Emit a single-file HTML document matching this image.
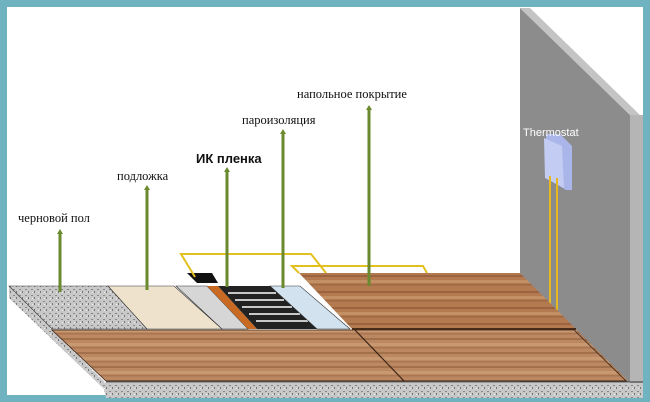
<!DOCTYPE html>
<html><head><meta charset="utf-8"><style>
html,body{margin:0;padding:0;background:#6fb3c0}
svg{display:block}
text{font-family:"Liberation Serif",serif;font-size:12.5px;fill:#111}
</style></head><body>
<svg width="650" height="402" viewBox="0 0 650 402">
<defs>
<pattern id="wood" width="80" height="16" patternUnits="userSpaceOnUse">
<rect width="80" height="16" fill="#b47a4f"/>
<rect y="3" width="80" height="2" fill="#8a5533" opacity=".6"/>
<rect y="8" width="80" height="3" fill="#c99a70" opacity=".7"/>
<rect y="12" width="80" height="1.5" fill="#93603c" opacity=".6"/>
</pattern>
<pattern id="wood2" width="80" height="14" patternUnits="userSpaceOnUse">
<rect width="80" height="14" fill="#bb8862"/>
<rect y="2" width="80" height="2" fill="#8f5c3a" opacity=".55"/>
<rect y="7" width="80" height="3" fill="#d0a37c" opacity=".6"/>
<rect y="11" width="80" height="1.5" fill="#99643f" opacity=".5"/>
</pattern>
<pattern id="gran" width="6" height="6" patternUnits="userSpaceOnUse">
<rect width="6" height="6" fill="#c8c8c8"/>
<rect x="1" y="1" width="2" height="1" fill="#888"/>
<rect x="4" y="3" width="1" height="2" fill="#777"/>
<rect x="2" y="4" width="1" height="1" fill="#eee"/>
</pattern>
</defs>
<rect x="0" y="0" width="650" height="402" fill="#6fb3c0"/>
<rect x="7" y="7" width="636" height="388" fill="#fff"/>
<!-- wall -->
<polygon points="520,8 630,115 632,382 520,382" fill="#8c8c8c"/>
<polygon points="520,8 530,8 643,118 630,115" fill="#c4c4c4"/>
<rect x="630" y="115" width="13" height="268" fill="#b5b5b5"/>
<!-- thermostat -->
<polygon points="546,134 560,134 572,146 572,190 566,190 546,178" fill="#aab6ea"/>
<polygon points="544,138 562,146 564,188 545,178" fill="#c3cdf3"/>
<text x="523" y="136" style="font-family:'Liberation Sans',sans-serif;font-size:11px;fill:#fff">Thermostat</text>
<line x1="550" y1="176" x2="550" y2="305" stroke="#e8b820" stroke-width="2"/>
<line x1="557" y1="178" x2="557" y2="310" stroke="#e8b820" stroke-width="2"/>
<!-- base slab -->
<polygon points="9,286 9,298 104,389 106,398 643,398 643,383 106,383" fill="url(#gran)"/>
<polygon points="9,286 108,286 147,329 52,329" fill="url(#gran)" stroke="#333" stroke-width=".6"/>
<polygon points="108,286 174,286 222,329 147,329" fill="#efe2cc" stroke="#333" stroke-width=".6"/>
<polygon points="176,286 207,286 248,329 222,329" fill="#d6d6d6" stroke="#333" stroke-width=".6"/>
<polygon points="207,286 218,286 257,329 248,329" fill="#c86a24"/>
<polygon points="187,273 212,273 218,283 197,283" fill="#111"/>
<polygon points="218,286 270,286 317,329 257,329" fill="#222"/>
<g stroke="#fff" stroke-width="1.5">
<line x1="228" y1="293" x2="276" y2="293"/><line x1="235" y1="300" x2="284" y2="300"/>
<line x1="242" y1="307" x2="292" y2="307"/><line x1="249" y1="314" x2="300" y2="314"/>
<line x1="256" y1="321" x2="308" y2="321"/></g>
<polygon points="270,286 300,286 350,329 317,329" fill="#d2e2ef" stroke="#333" stroke-width=".6"/>
<!-- yellow wires -->
<polyline points="195,277 181,254 311,254 326,273" fill="none" stroke="#e2c020" stroke-width="2"/>
<polyline points="299,273 292,266 423,266 427,273" fill="none" stroke="#e2c020" stroke-width="2"/>
<!-- back wood -->
<polygon points="299,273 520,273 627,380 626,381 574,329 352,329" fill="url(#wood)"/>
<line x1="352" y1="329" x2="576" y2="329" stroke="#4a2c18" stroke-width="2"/>
<!-- front wood -->
<polygon points="52,330 574,330 626,381 106,381" fill="url(#wood2)" stroke="#3a2416" stroke-width=".8"/>
<line x1="355" y1="330" x2="404" y2="381" stroke="#3a2416" stroke-width="1.2"/>
<line x1="106" y1="382" x2="643" y2="382" stroke="#333" stroke-width="1"/>
<!-- pointers -->
<g stroke="#6b8a2e" stroke-width="3">
<line x1="60" y1="233" x2="60" y2="292"/><line x1="147" y1="189" x2="147" y2="290"/>
<line x1="227" y1="171" x2="227" y2="287"/><line x1="283" y1="133" x2="283" y2="288"/>
<line x1="369" y1="109" x2="369" y2="286"/></g>
<g fill="#6b8a2e">
<polygon points="57,234 63,234 60,229"/><polygon points="144,190 150,190 147,185"/>
<polygon points="224,172 230,172 227,167"/><polygon points="280,134 286,134 283,129"/>
<polygon points="366,110 372,110 369,105"/></g>
<text x="18" y="222">черновой пол</text>
<text x="117" y="180">подложка</text>
<text x="196" y="163" style="font-family:'Liberation Sans',sans-serif;font-weight:bold;font-size:13px">ИК пленка</text>
<text x="242" y="124">пароизоляция</text>
<text x="297" y="98">напольное покрытие</text>
</svg>
</body></html>
